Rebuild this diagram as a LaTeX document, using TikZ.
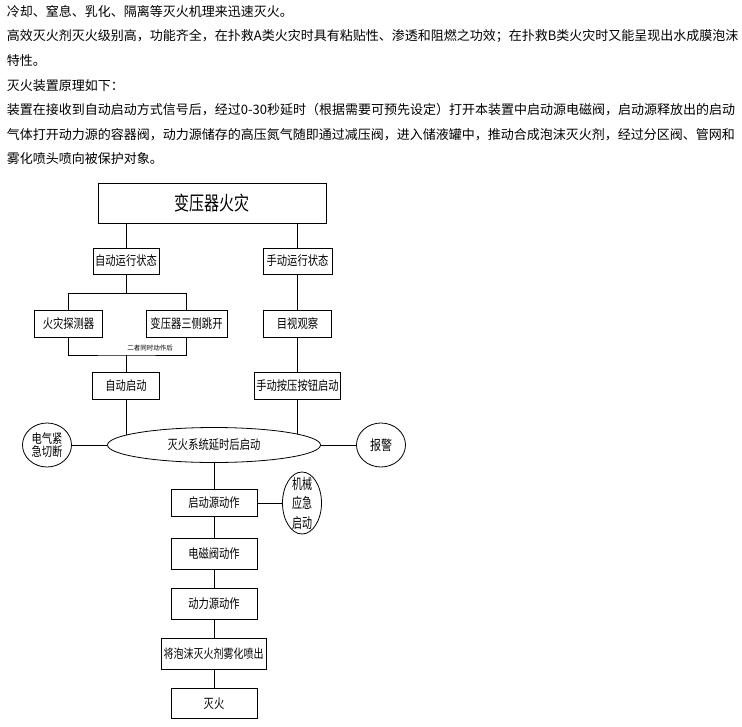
\documentclass[tikz,border=0pt]{standalone}
\usepackage{fontspec}
\usepackage{graphicx}
\setmainfont{Noto Sans CJK SC}
\usetikzlibrary{shapes.geometric,backgrounds}
\XeTeXlinebreaklocale "zh"
\XeTeXlinebreakskip=0pt plus 1pt minus 0.5pt
\newcommand{\tallt}[2][1.25]{\scalebox{1}[#1]{#2}}
\tikzset{
  fbox/.style={draw,fill=white,inner sep=0pt,font=\fontsize{10.3}{12}\selectfont},
  oval/.style={ellipse,draw,fill=white,inner sep=0pt,font=\fontsize{10.3}{13.3}\selectfont},
  para/.style={anchor=west,inner sep=0pt,font=\fontsize{13}{15}\selectfont},
  conn/.style={draw,line width=0.8pt}
}
\begin{document}
\begin{tikzpicture}[x=1pt,y=-1pt,line width=0.8pt]
\useasboundingbox (0,0) rectangle (742,726);
% paragraph text
\node[para] (l1) at (6.5,11.7) {冷却、窒息、乳化、隔离等灭火机理来迅速灭火。};
\node[para] (l2) at (6.5,36.2) {\hbox to 728pt{高效灭火剂灭火级别高，功能齐全，在扑救A类火灾时具有粘贴性、渗透和阻燃之功效；在扑救B类火灾时又能呈现出水成膜泡沫}};
\node[para] (l3) at (6.5,60.7) {特性。};
\node[para] (l4) at (6.5,85.2) {灭火装置原理如下：};
\node[para] (l5) at (6.5,109.7) {\hbox to 728pt{装置在接收到自动启动方式信号后，经过0-30秒延时（根据需要可预先设定）打开本装置中启动源电磁阀，启动源释放出的启动}};
\node[para] (l6) at (6.5,134.2) {\hbox to 725pt{气体打开动力源的容器阀，动力源储存的高压氮气随即通过减压阀，进入储液罐中，推动合成泡沫灭火剂，经过分区阀、管网和}};
\node[para] (l7) at (6.5,158.7) {雾化喷头喷向被保护对象。};
% flowchart nodes
\node[fbox,minimum width=228pt,minimum height=40pt,font=\fontsize{15}{18}\selectfont] (fire) at (212,203) {\tallt[1.3]{变压器火灾}};
\node[fbox,minimum width=66pt,minimum height=26pt] (autostate) at (126,261) {\tallt{自动运行状态}};
\node[fbox,minimum width=69pt,minimum height=26pt] (manstate) at (297.5,261) {\tallt{手动运行状态}};
\node[fbox,minimum width=68pt,minimum height=26.6pt] (detector) at (68.5,324) {\tallt{火灾探测器}};
\node[fbox,minimum width=81pt,minimum height=26.6pt] (trip) at (186.5,324) {\tallt{变压器三侧跳开}};
\node[fbox,minimum width=68.4pt,minimum height=26.6pt] (observe) at (297.5,324) {\tallt{目视观察}};
\node[fbox,minimum width=66.6pt,minimum height=27.7pt] (autostart) at (126,386) {\tallt{自动启动}};
\node[fbox,minimum width=86.4pt,minimum height=27.7pt] (manstart) at (297.5,386) {\tallt{手动按压按钮启动}};
\node[oval,minimum width=213pt,minimum height=35pt] (sys) at (214,445) {\tallt{灭火系统延时后启动}};
\node[oval,minimum width=49pt,minimum height=44pt,align=center] (elec) at (47,445) {\tallt{电气紧}\\\tallt{急切断}};
\node[oval,minimum width=49pt,minimum height=44pt,font=\fontsize{11}{13}\selectfont] (alarm) at (381,445) {\tallt{报警}};
\node[fbox,minimum width=86pt,minimum height=27.4pt] (src) at (214,503) {\tallt{启动源动作}};
\node[oval,minimum width=39pt,minimum height=62pt,align=center,inner ysep=-10pt,font=\fontsize{10}{19.5}\selectfont] (mech) at (302,503) {\tallt[1.45]{机械}\\\tallt[1.45]{应急}\\\tallt[1.45]{启动}};
\node[fbox,minimum width=86pt,minimum height=30.7pt] (valve) at (214,553.7) {\tallt{电磁阀动作}};
\node[fbox,minimum width=86pt,minimum height=31pt] (power) at (214,603.8) {\tallt{动力源动作}};
\node[fbox,minimum width=105pt,minimum height=31pt,font=\fontsize{10}{12}\selectfont] (spray) at (213.5,653.8) {\tallt{将泡沫灭火剂雾化喷出}};
\node[fbox,minimum width=86pt,minimum height=30pt] (out) at (214,703.3) {\tallt{灭火}};
\node[inner sep=0pt,font=\fontsize{6.5}{7}\selectfont] (note) at (150,348.5) {二者同时动作后};
\coordinate (split) at (126,292.7);
\coordinate (join) at (126,355);
\begin{pgfonlayer}{background}
\fill[white] (0,0) rectangle (742,726);
\draw (fire.south -| autostate.north) -- (autostate.north);
\draw (fire.south -| manstate.north) -- (manstate.north);
\draw (autostate.south) -- (split);
\draw (detector.north) |- (split) -| (trip.north);
\draw (detector.south) |- (join) -| (trip.south);
\draw (join) -- (autostart.north);
\draw (manstate) -- (observe);
\draw (observe) -- (manstart);
\draw (autostart.south) -- (autostart.south |- sys.center);
\draw (manstart.south) -- (manstart.south |- sys.center);
\draw (elec) -- (sys);
\draw (sys) -- (alarm);
\draw (sys) -- (src);
\draw (src) -- (mech);
\draw (src) -- (valve);
\draw (valve) -- (power);
\draw (power) -- (spray.north -| power.south);
\draw (spray.south -| out.north) -- (out);
\end{pgfonlayer}
\end{tikzpicture}
\end{document}
